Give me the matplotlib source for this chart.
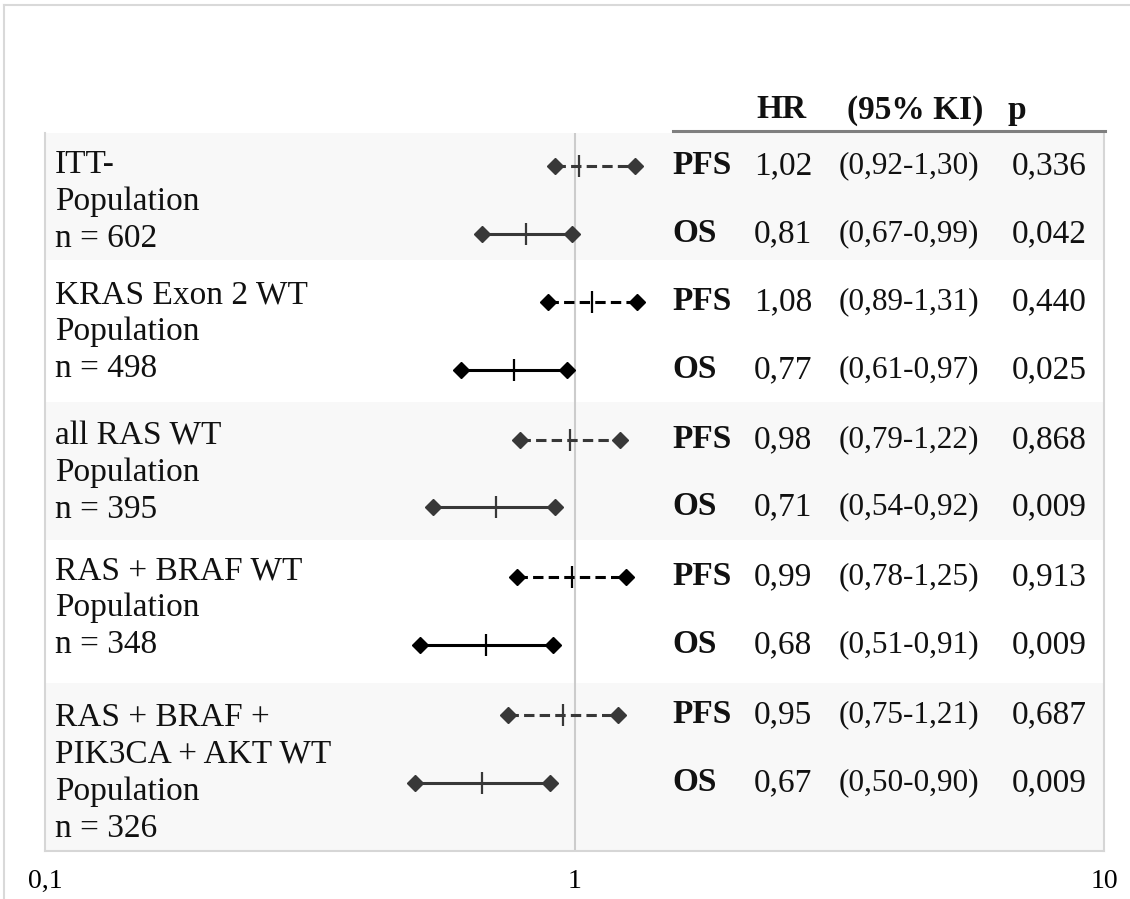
import matplotlib
matplotlib.use("Agg")
import matplotlib.pyplot as plt
from matplotlib.transforms import blended_transform_factory
from matplotlib.lines import Line2D

# ---------------- data ----------------
groups = [
    "ITT-\nPopulation\nn = 602",
    "KRAS Exon 2 WT\nPopulation\nn = 498",
    "all RAS WT\nPopulation\nn = 395",
    "RAS + BRAF WT\nPopulation\nn = 348",
    "RAS + BRAF +\nPIK3CA + AKT WT\nPopulation\nn = 326",
]
pfs_hr = [1.02, 1.08, 0.98, 0.99, 0.95]
pfs_lo = [0.92, 0.89, 0.79, 0.78, 0.75]
pfs_hi = [1.30, 1.31, 1.22, 1.25, 1.21]
pfs_p = ["0,336", "0,440", "0,868", "0,913", "0,687"]
os_hr = [0.81, 0.77, 0.71, 0.68, 0.67]
os_lo = [0.67, 0.61, 0.54, 0.51, 0.50]
os_hi = [0.99, 0.97, 0.92, 0.91, 0.90]
os_p = ["0,042", "0,025", "0,009", "0,009", "0,009"]
endpoints = ["PFS", "OS"]
xticks = [0.1, 1, 10]
xticklabels = ["0,1", "1", "10"]
header = ["HR", "(95% KI)", "p"]

# ---------------- layout (pixel based) ----------------
W, H = 1130, 899
AX_L, AX_R, AX_T, AX_B = 45, 1104, 133, 851
row_pfs = [166, 302, 440, 577, 715]
row_os = [234, 370, 507, 645, 783]
band_edges = [133, 260, 402, 540, 683, 851]
band_shaded = [True, False, True, False, True]
label_y = [202, 332, 473, 608, 773]
mark_colors = ["#383838", "#000000", "#383838", "#000000", "#383838"]

plt.rcParams["font.family"] = ["Liberation Serif", "DejaVu Serif"]

fig = plt.figure(figsize=(W / 100, H / 100), dpi=100)
ax = fig.add_axes([AX_L / W, 1 - AX_B / H, (AX_R - AX_L) / W, (AX_B - AX_T) / H])
ax.set_xscale("log")
ax.set_xlim(0.1, 10)
ax.set_ylim(AX_B, AX_T)

# background bands
for i, shaded in enumerate(band_shaded):
    if shaded:
        ax.axhspan(band_edges[i], band_edges[i + 1], color="#f8f8f8", zorder=0, lw=0)

# reference line at 1
ax.axvline(1, color="#cccccc", lw=1.5, zorder=1)

fmt = lambda v: f"{v:.2f}".replace(".", ",")

for i in range(len(groups)):
    c = mark_colors[i]
    # PFS (dashed)
    y = row_pfs[i]
    ax.plot([pfs_lo[i], pfs_hi[i]], [y, y], color=c, lw=2.2, dashes=(3.4, 1.7), zorder=2)
    ax.plot([pfs_lo[i], pfs_hi[i]], [y, y], ls="none", marker="D", ms=8.5, color=c, zorder=3)
    ax.plot([pfs_hr[i]], [y], ls="none", marker="|", ms=16, mew=1.6, color=c, zorder=3)
    # OS (solid)
    y = row_os[i]
    ax.plot([os_lo[i], os_hi[i]], [y, y], color=c, lw=2.2, zorder=2)
    ax.plot([os_lo[i], os_hi[i]], [y, y], ls="none", marker="D", ms=8.5, color=c, zorder=3)
    ax.plot([os_hr[i]], [y], ls="none", marker="|", ms=16, mew=1.6, color=c, zorder=3)

# spines
ax.spines["top"].set_visible(False)
for s in ["left", "right", "bottom"]:
    ax.spines[s].set_color("#d6d6d6")
    ax.spines[s].set_linewidth(1.5)

ax.set_yticks([])
ax.set_xticks(xticks)
ax.set_xticklabels(xticklabels, fontsize=20)
ax.minorticks_off()
ax.tick_params(axis="x", length=0, pad=13)

# group labels
tr_fig_x = blended_transform_factory(fig.transFigure, ax.transData)
for i, g in enumerate(groups):
    ax.text(55 / W, label_y[i], g, transform=tr_fig_x, ha="left", va="center",
            fontsize=24, linespacing=1.28, color="#111111")

# table text
TS = 24
for i in range(len(groups)):
    for ep, y, hr, lo, hi, p in [
        ("PFS", row_pfs[i], pfs_hr[i], pfs_lo[i], pfs_hi[i], pfs_p[i]),
        ("OS", row_os[i], os_hr[i], os_lo[i], os_hi[i], os_p[i]),
    ]:
        ax.text(672 / W, y, ep, transform=tr_fig_x, ha="left", va="center",
                fontsize=TS, fontweight="bold", color="#111111")
        ax.text(754 / W, y, fmt(hr), transform=tr_fig_x, ha="left", va="center",
                fontsize=TS, color="#111111")
        ax.text(979 / W, y, f"({fmt(lo)}-{fmt(hi)})", transform=tr_fig_x, ha="right",
                va="center", fontsize=TS - 1.5, color="#111111")
        ax.text(1087 / W, y, p, transform=tr_fig_x, ha="right", va="center",
                fontsize=TS, color="#111111")

# header
hy = 1 - 110 / H
fig.text(756 / W, hy, header[0], ha="left", va="center", fontsize=TS, fontweight="bold", color="#111111")
fig.text(983 / W, hy, header[1], ha="right", va="center", fontsize=TS, fontweight="bold", color="#111111")
fig.text(1008 / W, hy, header[2], ha="left", va="center", fontsize=TS, fontweight="bold", color="#111111")
fig.add_artist(Line2D([673 / W, 1105 / W], [1 - 131 / H, 1 - 131 / H],
                      transform=fig.transFigure, color="#7f7f7f", lw=2.2))

# outer frame (top & left)
fig.add_artist(Line2D([4 / W, 4 / W], [0, 1 - 5 / H], transform=fig.transFigure,
                      color="#d9d9d9", lw=1.5))
fig.add_artist(Line2D([4 / W, 1], [1 - 5 / H, 1 - 5 / H], transform=fig.transFigure,
                      color="#d9d9d9", lw=1.5))

fig.savefig("out.png", dpi=100, facecolor="white")
